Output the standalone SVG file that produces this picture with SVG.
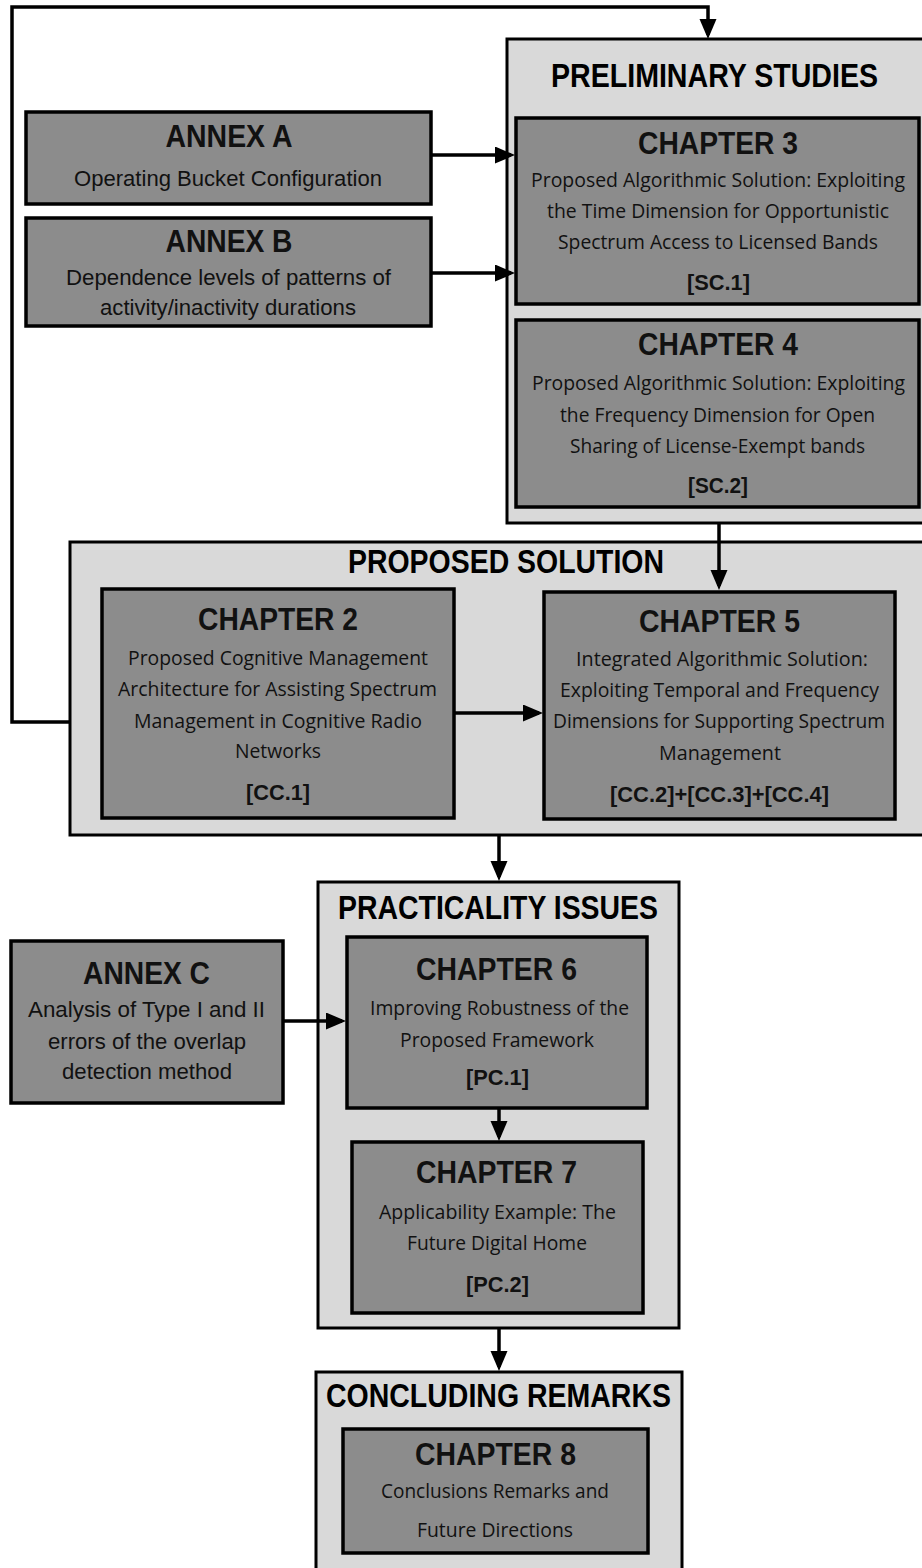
<svg xmlns="http://www.w3.org/2000/svg" width="922" height="1568" viewBox="0 0 922 1568">
<style>
.outer{fill:#d9d9d9;stroke:#000;stroke-width:3}
.box{fill:#8c8c8c;stroke:#000;stroke-width:3.5}
.conn{fill:none;stroke:#000;stroke-width:3.5}
.sec{font-family:"Liberation Sans",Arial,sans-serif;font-weight:bold;font-size:33px;fill:#000;text-anchor:middle}
.ttl{font-family:"Liberation Sans",Arial,sans-serif;font-weight:bold;font-size:31px;fill:#111;text-anchor:middle}
.ref{font-family:"Liberation Sans",Arial,sans-serif;font-weight:bold;font-size:22px;fill:#111;text-anchor:middle}
.nar{font-family:"Liberation Sans",Arial,sans-serif;font-size:22px;fill:#111;text-anchor:middle}
.cal{font-family:"Open Sans","Noto Sans",sans-serif;font-size:20.5px;fill:#111;text-anchor:middle}
</style>
<defs>
<marker id="ah" markerUnits="userSpaceOnUse" markerWidth="22" markerHeight="18" refX="16" refY="8.5" orient="auto">
<path d="M0,0 L20,8.5 L0,17 z" fill="#000"/>
</marker>
</defs>
<rect width="922" height="1568" fill="#fff"/>

<g id="preliminary-studies">
<rect class="outer" x="507" y="39" width="430" height="484"/>
<text class="sec" x="714.5" y="87" textLength="327" lengthAdjust="spacingAndGlyphs">PRELIMINARY STUDIES</text>
</g>
<g id="proposed-solution">
<rect class="outer" x="70" y="542" width="870" height="293"/>
<text class="sec" x="506" y="573" textLength="316" lengthAdjust="spacingAndGlyphs">PROPOSED SOLUTION</text>
</g>
<g id="practicality-issues">
<rect class="outer" x="318" y="882" width="361" height="446"/>
<text class="sec" x="498" y="919" textLength="320" lengthAdjust="spacingAndGlyphs">PRACTICALITY ISSUES</text>
</g>
<g id="concluding-remarks">
<rect class="outer" x="316" y="1372" width="366" height="210"/>
<text class="sec" x="498.5" y="1407" textLength="345" lengthAdjust="spacingAndGlyphs">CONCLUDING REMARKS</text>
</g>

<g id="annex-a">
<rect class="box" x="26" y="112" width="405" height="92"/>
<text class="ttl" x="229" y="147" textLength="127" lengthAdjust="spacingAndGlyphs">ANNEX A</text>
<text class="nar" x="228" y="186" textLength="308" lengthAdjust="spacingAndGlyphs">Operating Bucket Configuration</text>
</g>
<g id="annex-b">
<rect class="box" x="26" y="218" width="405" height="108"/>
<text class="ttl" x="229" y="252" textLength="127" lengthAdjust="spacingAndGlyphs">ANNEX B</text>
<text class="nar" x="228.5" y="285" textLength="325" lengthAdjust="spacingAndGlyphs">Dependence levels of patterns of</text>
<text class="nar" x="228" y="315" textLength="256" lengthAdjust="spacingAndGlyphs">activity/inactivity durations</text>
</g>
<g id="chapter-3">
<rect class="box" x="516" y="118" width="403" height="186"/>
<text class="ttl" x="718" y="154" textLength="160" lengthAdjust="spacingAndGlyphs">CHAPTER 3</text>
<text class="cal" x="718" y="187" textLength="374" lengthAdjust="spacingAndGlyphs">Proposed Algorithmic Solution: Exploiting</text>
<text class="cal" x="718" y="218" textLength="342" lengthAdjust="spacingAndGlyphs">the Time Dimension for Opportunistic</text>
<text class="cal" x="718" y="249" textLength="320" lengthAdjust="spacingAndGlyphs">Spectrum Access to Licensed Bands</text>
<text class="ref" x="718.5" y="290" textLength="63" lengthAdjust="spacingAndGlyphs">[SC.1]</text>
</g>
<g id="chapter-4">
<rect class="box" x="516" y="320" width="403" height="187"/>
<text class="ttl" x="718" y="355" textLength="160" lengthAdjust="spacingAndGlyphs">CHAPTER 4</text>
<text class="cal" x="718.5" y="390" textLength="373" lengthAdjust="spacingAndGlyphs">Proposed Algorithmic Solution: Exploiting</text>
<text class="cal" x="717.5" y="422" textLength="315" lengthAdjust="spacingAndGlyphs">the Frequency Dimension for Open</text>
<text class="cal" x="717.5" y="453" textLength="295" lengthAdjust="spacingAndGlyphs">Sharing of License-Exempt bands</text>
<text class="ref" x="718" y="493" textLength="60" lengthAdjust="spacingAndGlyphs">[SC.2]</text>
</g>
<g id="chapter-2">
<rect class="box" x="102" y="589" width="352" height="229"/>
<text class="ttl" x="278" y="630" textLength="160" lengthAdjust="spacingAndGlyphs">CHAPTER 2</text>
<text class="cal" x="278" y="665" textLength="300" lengthAdjust="spacingAndGlyphs">Proposed Cognitive Management</text>
<text class="cal" x="277.5" y="696" textLength="319" lengthAdjust="spacingAndGlyphs">Architecture for Assisting Spectrum</text>
<text class="cal" x="278" y="728" textLength="288" lengthAdjust="spacingAndGlyphs">Management in Cognitive Radio</text>
<text class="cal" x="278" y="758" textLength="86" lengthAdjust="spacingAndGlyphs">Networks</text>
<text class="ref" x="278" y="800" textLength="64" lengthAdjust="spacingAndGlyphs">[CC.1]</text>
</g>
<g id="chapter-5">
<rect class="box" x="544" y="592" width="351" height="227"/>
<text class="ttl" x="719.5" y="632" textLength="161" lengthAdjust="spacingAndGlyphs">CHAPTER 5</text>
<text class="cal" x="722" y="666" textLength="292" lengthAdjust="spacingAndGlyphs">Integrated Algorithmic Solution:</text>
<text class="cal" x="719.5" y="697" textLength="319" lengthAdjust="spacingAndGlyphs">Exploiting Temporal and Frequency</text>
<text class="cal" x="719" y="728" textLength="332" lengthAdjust="spacingAndGlyphs">Dimensions for Supporting Spectrum</text>
<text class="cal" x="720" y="760" textLength="122" lengthAdjust="spacingAndGlyphs">Management</text>
<text class="ref" x="719.5" y="802" textLength="219" lengthAdjust="spacingAndGlyphs">[CC.2]+[CC.3]+[CC.4]</text>
</g>
<g id="annex-c">
<rect class="box" x="11" y="941" width="272" height="162"/>
<text class="ttl" x="146.5" y="984" textLength="127" lengthAdjust="spacingAndGlyphs">ANNEX C</text>
<text class="nar" x="146.5" y="1017" textLength="237" lengthAdjust="spacingAndGlyphs">Analysis of Type I and II</text>
<text class="nar" x="147" y="1049" textLength="198" lengthAdjust="spacingAndGlyphs">errors of the overlap</text>
<text class="nar" x="147" y="1079" textLength="170" lengthAdjust="spacingAndGlyphs">detection method</text>
</g>
<g id="chapter-6">
<rect class="box" x="347" y="937" width="300" height="171"/>
<text class="ttl" x="496.5" y="980" textLength="161" lengthAdjust="spacingAndGlyphs">CHAPTER 6</text>
<text class="cal" x="499.5" y="1015" textLength="259" lengthAdjust="spacingAndGlyphs">Improving Robustness of the</text>
<text class="cal" x="497" y="1047" textLength="194" lengthAdjust="spacingAndGlyphs">Proposed Framework</text>
<text class="ref" x="497.5" y="1085" textLength="63" lengthAdjust="spacingAndGlyphs">[PC.1]</text>
</g>
<g id="chapter-7">
<rect class="box" x="352" y="1142" width="291" height="171"/>
<text class="ttl" x="496.5" y="1183" textLength="161" lengthAdjust="spacingAndGlyphs">CHAPTER 7</text>
<text class="cal" x="497.5" y="1219" textLength="237" lengthAdjust="spacingAndGlyphs">Applicability Example: The</text>
<text class="cal" x="497" y="1250" textLength="180" lengthAdjust="spacingAndGlyphs">Future Digital Home</text>
<text class="ref" x="497.5" y="1292" textLength="63" lengthAdjust="spacingAndGlyphs">[PC.2]</text>
</g>
<g id="chapter-8">
<rect class="box" x="343" y="1429" width="305" height="124"/>
<text class="ttl" x="495.5" y="1465" textLength="161" lengthAdjust="spacingAndGlyphs">CHAPTER 8</text>
<text class="cal" x="495" y="1498" textLength="228" lengthAdjust="spacingAndGlyphs">Conclusions Remarks and</text>
<text class="cal" x="495" y="1537" textLength="156" lengthAdjust="spacingAndGlyphs">Future Directions</text>
</g>

<g id="connectors">
<polyline class="conn" points="70,722 12,722 12,7 708,7 708,35" marker-end="url(#ah)"/>
<line class="conn" x1="431" y1="155" x2="511" y2="155" marker-end="url(#ah)"/>
<line class="conn" x1="431" y1="273" x2="511" y2="273" marker-end="url(#ah)"/>
<line class="conn" x1="719" y1="523" x2="719" y2="586" marker-end="url(#ah)"/>
<line class="conn" x1="454" y1="713" x2="539" y2="713" marker-end="url(#ah)"/>
<line class="conn" x1="499" y1="835" x2="499" y2="877" marker-end="url(#ah)"/>
<line class="conn" x1="283" y1="1021" x2="342" y2="1021" marker-end="url(#ah)"/>
<line class="conn" x1="499" y1="1108" x2="499" y2="1137" marker-end="url(#ah)"/>
<line class="conn" x1="499" y1="1328" x2="499" y2="1367" marker-end="url(#ah)"/>
</g>
</svg>
